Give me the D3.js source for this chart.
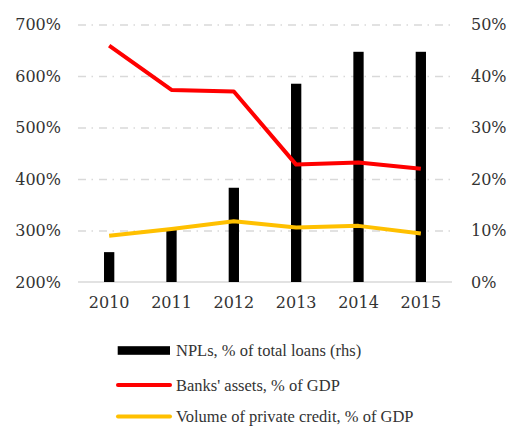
<!DOCTYPE html>
<html>
<head>
<meta charset="utf-8">
<script src="https://cdn.jsdelivr.net/npm/d3@7"></script>
<style>
  html, body { margin: 0; padding: 0; background: #fff; }
  svg { display: block; }
</style>
</head>
<body>
<svg id="chart" width="509" height="426"></svg>
<script>
// Banking sector indicators, 2010–2015
const years = ["2010", "2011", "2012", "2013", "2014", "2015"];
const nplShare = [5.8, 10.3, 18.3, 38.5, 44.7, 44.7];        // % of total loans (right axis)
const bankAssets = [659, 573, 570, 428, 432, 420];            // % of GDP (left axis)
const privateCredit = [290, 303, 318, 306, 309, 294];         // % of GDP (left axis)
const leftTicks = [200, 300, 400, 500, 600, 700];
const rightTicks = [0, 10, 20, 30, 40, 50];
const legendLabels = [
  "NPLs, % of total loans (rhs)",
  "Banks' assets, % of GDP",
  "Volume of private credit, % of GDP"
];

const svg = d3.select("#chart");
const textColor = "#333333";
const tickFont = "DejaVu Serif, serif";
const legendFont = "Liberation Serif, serif";

const plot = { left: 78, right: 452, top: 24.5, bottom: 282 };

const x = d3.scaleBand().domain(years).range([plot.left, plot.right]).padding(0);
const yLeft = d3.scaleLinear().domain([200, 700]).range([plot.bottom, plot.top]);
const yRight = d3.scaleLinear().domain([0, 50]).range([plot.bottom, plot.top]);

// Dash-dot gridlines
const grid = svg.append("g")
  .attr("transform", `translate(${plot.left},0)`)
  .call(d3.axisRight(yLeft).tickValues(leftTicks.filter(d => d > 200))
    .tickSize(plot.right - plot.left).tickFormat(""));
grid.select(".domain").remove();
grid.selectAll("line")
  .attr("stroke", "#d9d9d9")
  .attr("stroke-width", 1.3)
  .attr("stroke-dasharray", "8,5.5,1.5,6");

// Baseline
svg.append("line")
  .attr("x1", plot.left).attr("x2", plot.right)
  .attr("y1", yLeft(200)).attr("y2", yLeft(200))
  .attr("stroke", "#d9d9d9").attr("stroke-width", 1.3);

// Left axis
const gl = svg.append("g")
  .attr("transform", `translate(61,0)`)
  .call(d3.axisLeft(yLeft).tickValues(leftTicks).tickSize(0).tickPadding(0)
    .tickFormat(d => d + "%"));
gl.select(".domain").remove();
gl.selectAll("text").attr("fill", textColor)
  .style("font-family", tickFont).style("font-size", "16px");

// Right axis
const gr = svg.append("g")
  .attr("transform", `translate(471,0)`)
  .call(d3.axisRight(yRight).tickValues(rightTicks).tickSize(0).tickPadding(0)
    .tickFormat(d => d + "%"));
gr.select(".domain").remove();
gr.selectAll("text").attr("fill", textColor)
  .style("font-family", tickFont).style("font-size", "16px");

// X axis labels
const gx = svg.append("g")
  .attr("transform", `translate(0,${plot.bottom})`)
  .call(d3.axisBottom(x).tickSize(0).tickPadding(15));
gx.select(".domain").remove();
gx.selectAll("text").attr("fill", textColor)
  .style("font-family", tickFont).style("font-size", "16px");

// NPL bars (right axis)
const barW = 10.3;
svg.append("g").selectAll("rect")
  .data(years.map((yr, i) => ({ yr, v: nplShare[i] })))
  .join("rect")
  .attr("x", d => x(d.yr) + x.bandwidth() / 2 - barW / 2)
  .attr("width", barW)
  .attr("y", d => yRight(d.v))
  .attr("height", d => yRight(0) - yRight(d.v))
  .attr("fill", "#000");

// Lines (left axis)
const line = d3.line()
  .x((d, i) => x(years[i]) + x.bandwidth() / 2)
  .y(d => yLeft(d));

svg.append("path").datum(privateCredit)
  .attr("d", line).attr("fill", "none")
  .attr("stroke", "#FFC000").attr("stroke-width", 4).attr("stroke-linejoin", "round");

svg.append("path").datum(bankAssets)
  .attr("d", line).attr("fill", "none")
  .attr("stroke", "#FF0000").attr("stroke-width", 4).attr("stroke-linejoin", "round");

// Legend
const legend = svg.append("g");
const legendY = [350.5, 385, 416.5];
legend.append("rect")
  .attr("x", 117.7).attr("y", legendY[0] - 4.3)
  .attr("width", 52.3).attr("height", 8.6).attr("fill", "#000");
[["#FF0000", 1], ["#FFC000", 2]].forEach(([c, i]) => {
  legend.append("line")
    .attr("x1", 118).attr("x2", 170)
    .attr("y1", legendY[i]).attr("y2", legendY[i])
    .attr("stroke", c).attr("stroke-width", 4).attr("stroke-linecap", "round");
});
legend.selectAll("text")
  .data(legendLabels)
  .join("text")
  .attr("x", 176)
  .attr("y", (d, i) => legendY[i])
  .attr("dy", "0.35em")
  .attr("fill", textColor)
  .style("font-family", legendFont)
  .style("font-size", "16.5px")
  .text(d => d);
</script>
</body>
</html>
